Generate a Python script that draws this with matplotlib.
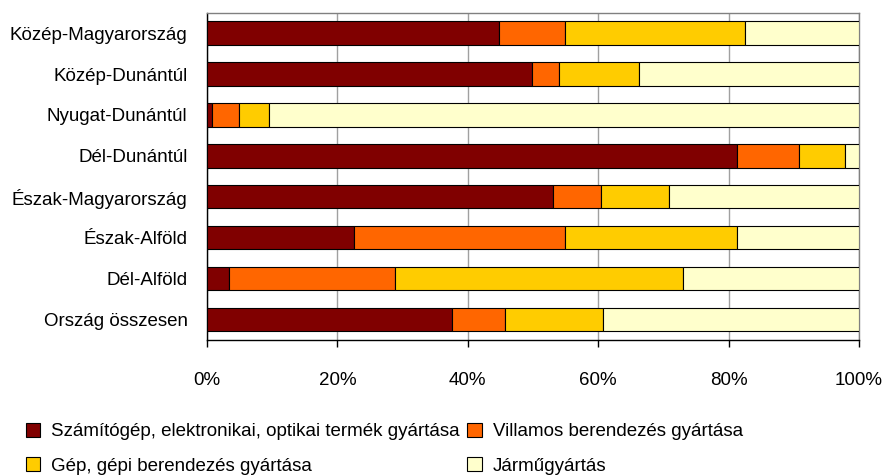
import matplotlib
matplotlib.use("Agg")
import matplotlib.pyplot as plt
import numpy as np

plt.rcParams['font.family'] = ['Liberation Sans', 'DejaVu Sans']

regions = ["Közép-Magyarország", "Közép-Dunántúl", "Nyugat-Dunántúl", "Dél-Dunántúl",
           "Észak-Magyarország", "Észak-Alföld", "Dél-Alföld", "Ország összesen"]
series_names = ["Számítógép, elektronikai, optikai termék gyártása",
                "Villamos berendezés gyártása",
                "Gép, gépi berendezés gyártása",
                "Járműgyártás"]
szamitogep = [44.8, 49.8, 0.7, 81.3, 53.1, 22.5, 3.4, 37.5]
villamos = [10.1, 4.2, 4.2, 9.5, 7.4, 32.4, 25.5, 8.2]
gep = [27.6, 12.3, 4.6, 7.1, 10.4, 26.4, 44.1, 15.1]
jarmu = [17.5, 33.7, 90.5, 2.1, 29.1, 18.7, 27.0, 39.2]
colors = ["#800000", "#FF6600", "#FFCC00", "#FFFFCC"]
xticks = [0, 20, 40, 60, 80, 100]
xticklabels = ["0%", "20%", "40%", "60%", "80%", "100%"]

FS = 13.5

fig = plt.figure(figsize=(8.84, 4.75), dpi=100)
ax = fig.add_axes([207/884, 1-340/475, (859-207)/884, (340-12.7)/475])

y = np.arange(len(regions))
left = np.zeros(len(regions))
handles = []
for vals, c, name in zip([szamitogep, villamos, gep, jarmu], colors, series_names):
    v = np.array(vals)
    b = ax.barh(y, v, left=left, height=0.57, color=c, edgecolor="#000000",
                linewidth=0.8, label=name, zorder=3)
    handles.append(b)
    left += v

ax.set_xlim(0, 100)
ax.set_ylim(len(regions) - 0.5, -0.5)
ax.set_yticks(y)
ax.set_yticklabels(regions, fontsize=FS)
ax.set_xticks(xticks)
ax.set_xticklabels(xticklabels, fontsize=FS)
ax.tick_params(axis='y', length=0, pad=14)
ax.tick_params(axis='x', length=5, width=1, direction='out', pad=18)
ax.grid(axis='x', color="#A0A0A0", linewidth=1, zorder=0)
ax.set_axisbelow(True)
for s in ['top', 'right']:
    ax.spines[s].set_color("#808080")
    ax.spines[s].set_linewidth(1)
for s in ['left', 'bottom']:
    ax.spines[s].set_color("#000000")
    ax.spines[s].set_linewidth(1)

order = [0, 2, 1, 3]
fig.legend([handles[i] for i in order], [series_names[i] for i in order],
           loc='upper left', bbox_to_anchor=(26/884, 1-423/475), ncol=2,
           frameon=False, fontsize=FS, handlelength=0.75, handleheight=0.75,
           handletextpad=0.6, columnspacing=0.4, labelspacing=0.9,
           borderpad=0, borderaxespad=0)

fig.savefig("out.png", dpi=100)
